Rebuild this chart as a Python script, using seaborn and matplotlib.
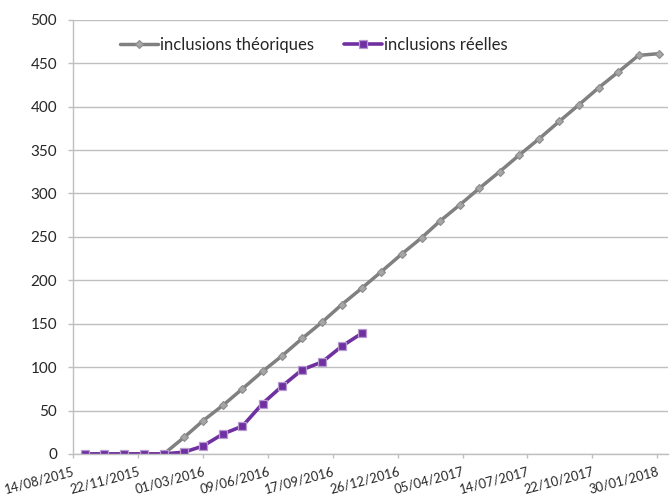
import matplotlib
matplotlib.use("Agg")
import matplotlib.pyplot as plt
import matplotlib.dates as mdates
import seaborn as sns
import pandas as pd
import numpy as np

months = ["2015-09-01", "2015-10-01", "2015-11-01", "2015-12-01", "2016-01-01",
          "2016-02-01", "2016-03-01", "2016-04-01", "2016-05-01", "2016-06-01",
          "2016-07-01", "2016-08-01", "2016-09-01", "2016-10-01", "2016-11-01",
          "2016-12-01", "2017-01-01", "2017-02-01", "2017-03-01", "2017-04-01",
          "2017-05-01", "2017-06-01", "2017-07-01", "2017-08-01", "2017-09-01",
          "2017-10-01", "2017-11-01", "2017-12-01", "2018-01-01", "2018-02-01"]
theoriques = [0, 0, 0, 0, 0, 19, 38, 56, 75, 95, 113, 133, 152, 172, 191,
              210, 230, 249, 268, 287, 306, 325, 344, 363, 383, 402, 422, 440, 459, 461]
reelles = [0, 0, 0, 0, 0, 2, 9, 23, 32, 58, 78, 97, 106, 124, 139]
tick_dates = ["2015-08-14", "2015-11-22", "2016-03-01", "2016-06-09", "2016-09-17",
              "2016-12-26", "2017-04-05", "2017-07-14", "2017-10-22", "2018-01-30"]
y_ticks = [0, 50, 100, 150, 200, 250, 300, 350, 400, 450, 500]

sns.set_theme(style="white")
plt.rcParams['font.family'] = ['Lato', 'DejaVu Sans']

df_t = pd.DataFrame({"date": pd.to_datetime(months), "val": theoriques})
df_r = pd.DataFrame({"date": pd.to_datetime(months[:len(reelles)]), "val": reelles})

fig = plt.figure(figsize=(6.72, 4.95), dpi=100)
ax = fig.add_axes([0.1086, 0.083, 0.886, 0.877])

sns.lineplot(data=df_t, x="date", y="val", ax=ax, color="#808080", lw=2.5,
             marker="D", markersize=4.5, markerfacecolor="#a6a6a6",
             markeredgecolor="#8c8c8c", markeredgewidth=0.8,
             label="inclusions théoriques")
sns.lineplot(data=df_r, x="date", y="val", ax=ax, color="#7030a0", lw=2.6,
             marker="s", markersize=5.5, markerfacecolor="#7030a0",
             markeredgecolor="#b59ad0", markeredgewidth=0.9,
             label="inclusions réelles")

tdates = pd.to_datetime(tick_dates)
ax.set_xlim(mdates.date2num(tdates[0]), mdates.date2num(tdates[-1]) + 17)
ax.set_xticks(mdates.date2num(tdates))
ax.xaxis.set_major_formatter(mdates.DateFormatter("%d/%m/%Y"))
ax.set_ylim(0, 500)
ax.set_yticks(y_ticks)
ax.set_xlabel("")
ax.set_ylabel("")

ax.grid(axis="y", color="#bfbfbf", lw=1)
ax.set_axisbelow(True)
for s in ["top", "right"]:
    ax.spines[s].set_visible(False)
for s in ["left", "bottom"]:
    ax.spines[s].set_color("#bfbfbf")
    ax.spines[s].set_linewidth(1)

ax.tick_params(axis="x", which="major", bottom=True, length=3, color="#bfbfbf",
               width=1, labelsize=9.3, pad=5, labelcolor="#262626")
ax.tick_params(axis="y", left=True, length=3.5, color="#bfbfbf", width=1,
               labelsize=11, pad=8, labelcolor="#262626")
for lab in ax.get_xticklabels():
    lab.set_rotation(15)
    lab.set_ha("right")
    lab.set_rotation_mode("anchor")

leg = ax.legend(loc="center left", bbox_to_anchor=(0.067, 0.942), ncol=2, frameon=False,
                fontsize=12, handlelength=2.3, handletextpad=0.15, columnspacing=1.75,
                borderaxespad=0)

fig.savefig("out.png", dpi=100)
